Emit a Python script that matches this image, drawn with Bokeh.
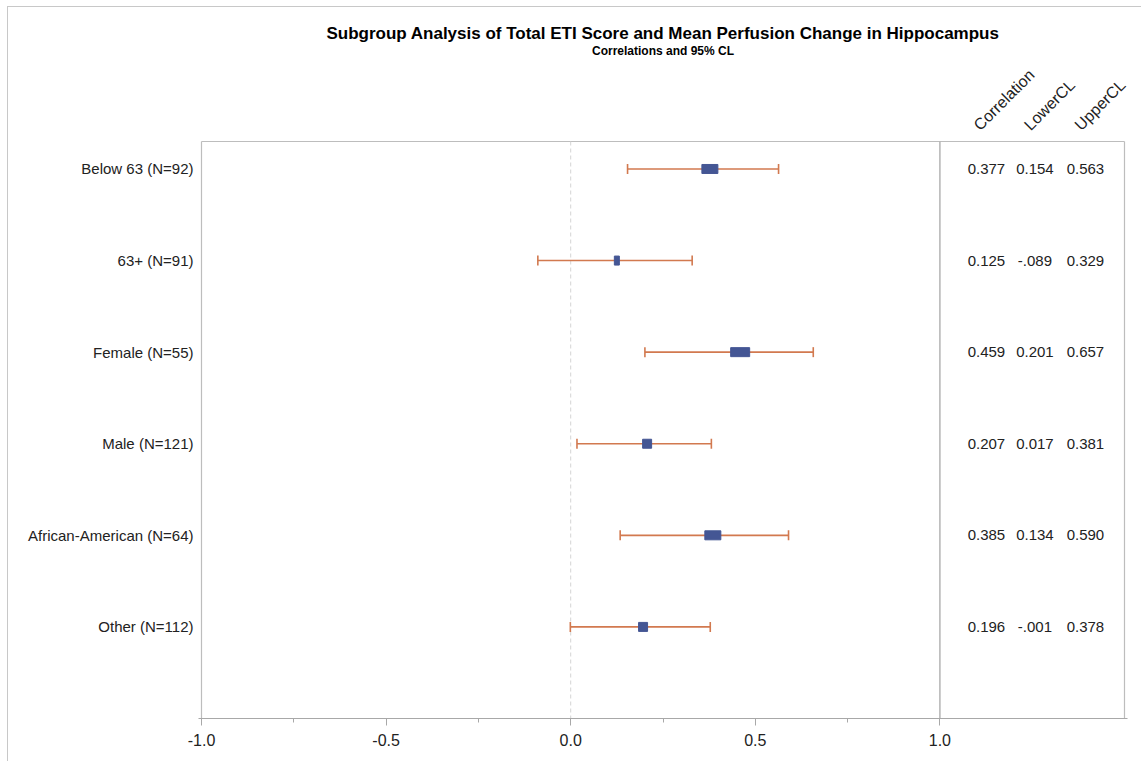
import math
from bokeh.plotting import figure
from bokeh.models import Range1d, FixedTicker, Label, ColumnDataSource, NumeralTickFormatter
from bokeh.embed import file_html
from bokeh.resources import INLINE
from bokeh.core.properties import value

# ---------------- data ----------------
subgroups = ["Below 63 (N=92)", "63+ (N=91)", "Female (N=55)", "Male (N=121)",
             "African-American (N=64)", "Other (N=112)"]
correlation = [0.377, 0.125, 0.459, 0.207, 0.385, 0.196]
lower_cl = [0.154, -0.089, 0.201, 0.017, 0.134, -0.001]
upper_cl = [0.563, 0.329, 0.657, 0.381, 0.590, 0.378]
marker_weight = [16, 5, 19, 9, 16, 9]   # relative box weight
x_ticks = [-1.0, -0.5, 0.0, 0.5, 1.0]
x_minor_ticks = [-0.75, -0.25, 0.25, 0.75]
column_headers = ["Correlation", "LowerCL", "UpperCL"]
title_text = "Subgroup Analysis of Total ETI Score and Mean Perfusion Change in Hippocampus"
subtitle_text = "Correlations and 95% CL"

FONT = "Liberation Sans"
BOX_COLOR = "#445694"
CL_COLOR = "#d2794f"
FRAME_COLOR = "#bdbdbd"

def fmt(v):
    s = f"{v:.3f}"
    if s.startswith("-0."):
        s = "-" + s[2:]
    return s

rows = list(range(1, len(subgroups) + 1))

# geometry (pixels inside the figure)
W, H = 1134, 755
LEFT, RIGHT, TOP, BOTTOM = 193, 18, 134, 44   # visual plot box borders
PAD = 3                                        # extra room so box lines are not clipped
X0, X1 = -1.0, 1.5
Y_BOTTOM, Y_TOP = 7.0, 0.7
px_per_x = (W - LEFT - RIGHT) / (X1 - X0)
px_per_y = (H - TOP - BOTTOM) / (Y_BOTTOM - Y_TOP)

p = figure(width=W, height=H, output_backend="svg", toolbar_location=None,
           x_range=Range1d(X0 - PAD / px_per_x, X1 + PAD / px_per_x),
           y_range=Range1d(Y_BOTTOM, Y_TOP - TOP / px_per_y),
           min_border_left=LEFT - PAD, min_border_right=RIGHT - PAD,
           min_border_top=0, min_border_bottom=BOTTOM,
           margin=(6, 0, 0, 7),
           styles={"border-top": "1px solid #c8c8c8", "border-left": "1px solid #c8c8c8"})
p.xgrid.visible = False
p.ygrid.visible = False
p.outline_line_color = None
p.background_fill_color = "white"
p.border_fill_color = "white"

# x axis
xa = p.xaxis[0]
xa.ticker = FixedTicker(ticks=x_ticks, minor_ticks=x_minor_ticks)
xa.formatter = NumeralTickFormatter(format="0.0")
xa.axis_line_color = "#a8a8a8"
xa.axis_line_width = 1.2
xa.major_tick_line_color = "#a8a8a8"
xa.minor_tick_line_color = "#a8a8a8"
xa.major_tick_out = 7
xa.major_tick_in = 0
xa.minor_tick_out = 4
xa.minor_tick_in = 0
xa.major_label_text_font = FONT
xa.major_label_text_font_size = "16px"
xa.major_label_text_color = "#222222"
xa.major_label_standoff = 8

# y axis
ya = p.yaxis[0]
ya.ticker = FixedTicker(ticks=rows)
ya.major_label_overrides = {r: s for r, s in zip(rows, subgroups)}
ya.axis_line_color = None
ya.major_tick_line_color = None
ya.minor_tick_line_color = None
ya.major_tick_in = 0
ya.major_tick_out = 0
ya.major_label_standoff = 5
ya.major_label_text_font = FONT
ya.major_label_text_font_size = "15px"
ya.major_label_text_color = "#222222"

# plot box (top, left, right)
p.segment(x0=[X0, X0, X1], x1=[X1, X0, X1], y0=[Y_TOP, Y_TOP, Y_TOP], y1=[Y_TOP, Y_BOTTOM, Y_BOTTOM],
          line_color=FRAME_COLOR, line_width=1.2)
# reference lines
p.segment(x0=[0.0], x1=[0.0], y0=[Y_TOP], y1=[Y_BOTTOM], line_color="#d4d4d4",
          line_dash="4 3", line_width=1)
p.segment(x0=[1.0], x1=[1.0], y0=[Y_TOP], y1=[Y_BOTTOM], line_color="#b4b4b4", line_width=1.5)

src = ColumnDataSource(dict(
    y=rows, corr=correlation, lo=lower_cl, hi=upper_cl,
    w=[m * 1.0 for m in marker_weight],
    cap0=[r - 5 / px_per_y for r in rows], cap1=[r + 5 / px_per_y for r in rows],
))

p.segment(x0="lo", x1="hi", y0="y", y1="y", source=src, line_color=CL_COLOR, line_width=1.6)
p.segment(x0="lo", x1="lo", y0="cap0", y1="cap1", source=src, line_color=CL_COLOR, line_width=1.6)
p.segment(x0="hi", x1="hi", y0="cap0", y1="cap1", source=src, line_color=CL_COLOR, line_width=1.6)
p.rect(x="corr", y="y", width="w", width_units="screen", height=9, height_units="screen",
       source=src, fill_color=BOX_COLOR, line_color=BOX_COLOR, line_width=1)

# table columns
col_centers = [1.0 + (985.5 - 939) / px_per_x, 1.0 + (1034 - 939) / px_per_x, 1.0 + (1084.5 - 939) / px_per_x]
hdr_shift = [-4, -2, -2]
col_values = [correlation, lower_cl, upper_cl]
for cx, vals, hdr, hs in zip(col_centers, col_values, column_headers, hdr_shift):
    p.text(x=[cx] * len(rows), y=rows, text=[fmt(v) for v in vals],
           text_align="center", text_baseline="middle",
           text_font=value(FONT), text_font_size="15px", text_color="#222222")
    p.add_layout(Label(x=cx + hs / px_per_x, y=Y_TOP - 8 / px_per_y, text=hdr, angle=math.pi / 4,
                       text_align="left", text_baseline="bottom",
                       text_font=FONT, text_font_size="16px", text_color="#222222"))

# titles
p.add_layout(Label(x=(X0 + X1) / 2, y=Y_TOP - (140 - 32) / px_per_y, text=title_text,
                   text_align="center", text_baseline="middle",
                   text_font=FONT, text_font_size="17px", text_font_style="bold",
                   text_color="#000000"))
p.add_layout(Label(x=(X0 + X1) / 2, y=Y_TOP - (140 - 49) / px_per_y, text=subtitle_text,
                   text_align="center", text_baseline="middle",
                   text_font=FONT, text_font_size="12px", text_font_style="bold",
                   text_color="#000000"))

open("out.html", "w").write(file_html(p, INLINE))
